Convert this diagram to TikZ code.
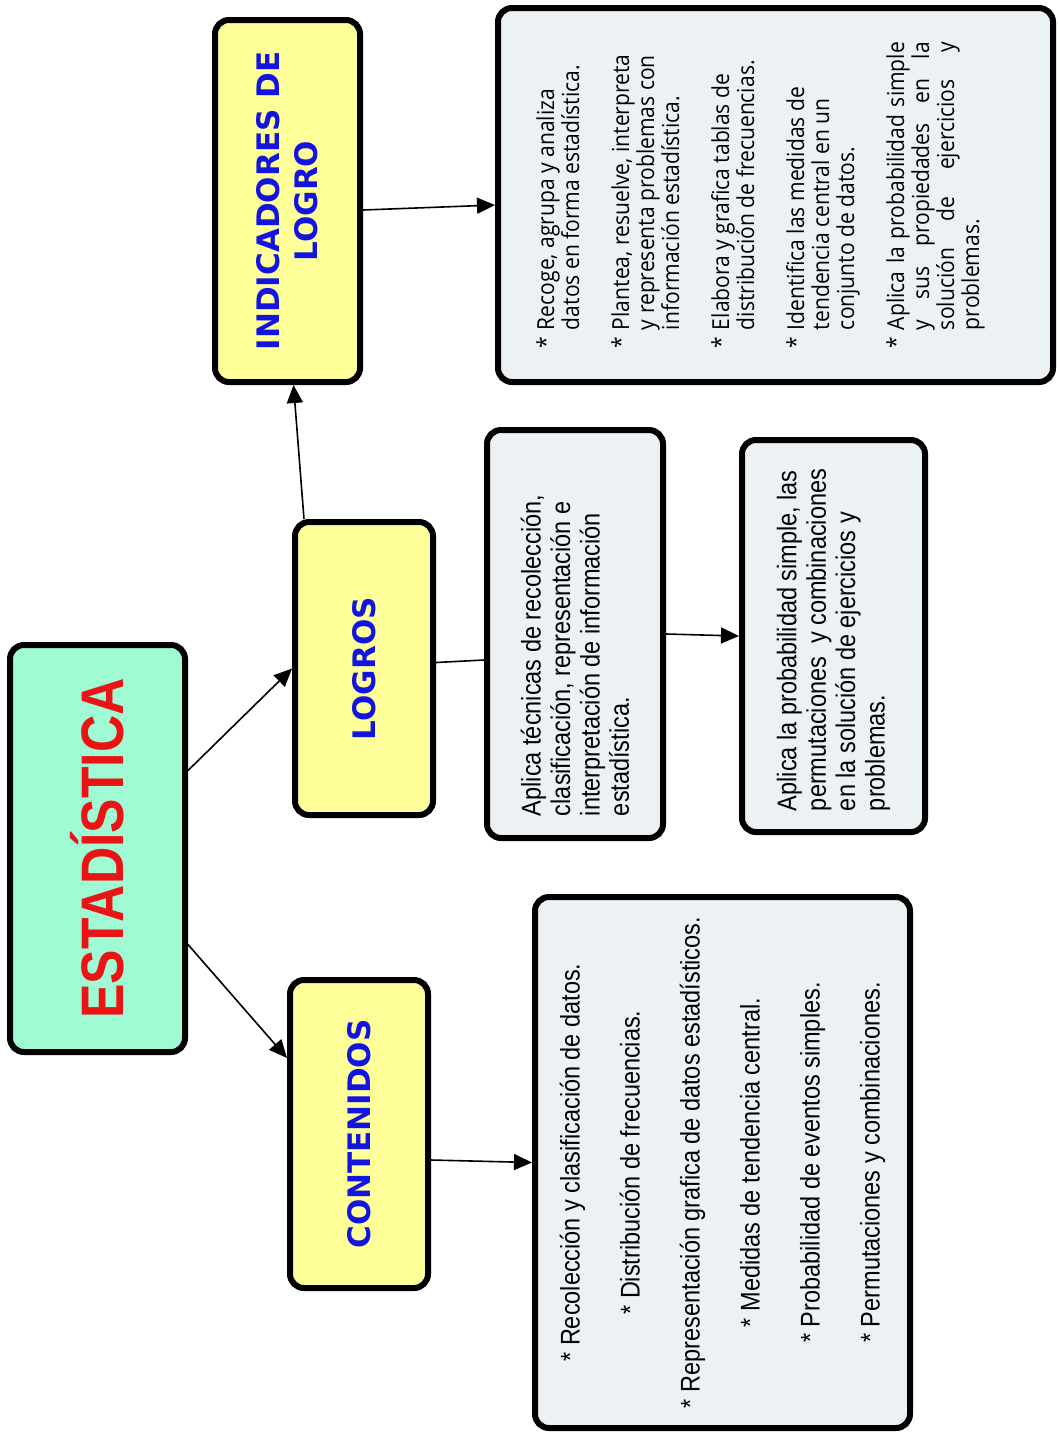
\documentclass[tikz,border=0pt]{standalone}
\usepackage{fontspec}
\usepackage{graphicx}
\usetikzlibrary{arrows.meta}
\setmainfont{Liberation Sans}
\newfontfamily\titlefont{DejaVu Sans}
\newfontfamily\bigfont[FakeStretch=0.86]{Liberation Sans}
\newfontfamily\bodyfont[FakeStretch=0.87]{Liberation Sans}
\newfontfamily\indfont[FakeStretch=0.9]{Open Sans}
\definecolor{mintfill}{RGB}{160,250,212}
\definecolor{lemonfill}{RGB}{255,255,153}
\definecolor{greyfill}{RGB}{236,241,244}
\definecolor{titleblue}{RGB}{20,20,225}
\definecolor{titlered}{RGB}{235,20,20}
\hyphenpenalty=10000
\exhyphenpenalty=10000
\lineskiplimit=-20pt
\newcommand{\logitem}[1]{\par\hangindent=9pt\hangafter=1\noindent\makebox[9pt][l]{*}#1\par}
\begin{document}
\begin{tikzpicture}[x=0.5pt,y=-0.5pt,
  baseframe/.style={draw=black,line width=3pt,rounded corners=7pt,inner sep=0pt},
  mainbox/.style={baseframe,fill=mintfill,text=titlered,
    font=\bigfont\bfseries\fontsize{30}{34}\selectfont},
  headbox/.style={baseframe,fill=lemonfill,text=titleblue,
    font=\titlefont\bfseries\fontsize{15.5}{19}\selectfont},
  notebox/.style={baseframe,fill=greyfill,
    font=\bodyfont\fontsize{13.5}{14.7}\selectfont},
  conn/.style={line width=0.8pt,-{Triangle[length=9pt,width=8pt]}},
  connplain/.style={line width=0.8pt}]
  \useasboundingbox (0,0) rectangle (1057,1432);
  \node[mainbox,minimum width=87.5pt,minimum height=203.5pt] (est) at (97.5,848.5)
    {\rotatebox{90}{ESTADÍSTICA}};
  \node[headbox,minimum width=72.5pt,minimum height=181pt] (indic) at (287.5,201)
    {\rotatebox{90}{\parbox{170pt}{\centering INDICADORES DE\\ LOGRO}}};
  \node[headbox,minimum width=69pt,minimum height=146.5pt] (logros) at (364,668.5)
    {\rotatebox{90}{LOGROS}};
  \node[headbox,minimum width=69pt,minimum height=154pt] (cont) at (359,1134)
    {\rotatebox{90}{CONTENIDOS}};
  \node[notebox,minimum width=277.5pt,minimum height=187pt,
    font=\indfont\fontsize{11.7}{12.5}\selectfont] (indtxt) at (775.5,195)
    {\rotatebox{90}{\raisebox{0pt}[\height][\dimexpr\depth+15pt\relax]{\parbox{153pt}{\setlength{\parskip}{12.5pt}%
      \logitem{Recoge, agrupa y analiza\\ datos en forma estadística.}
      \logitem{Plantea, resuelve, interpreta\\ y representa problemas con\\ información estadística.}
      \logitem{Elabora y grafica tablas de\\ distribución de frecuencias.}
      \logitem{Identifica las medidas de\\ tendencia central en un\\ conjunto de datos.}
      \logitem{Aplica la probabilidad simple\linebreak y sus propiedades en la\linebreak solución de ejercicios y\linebreak problemas.}}}}};
  \node[notebox,minimum width=88pt,minimum height=204pt] (lt1) at (575,634)
    {\rotatebox{90}{\parbox{162pt}{\raggedright Aplica técnicas de recolección,\\
      clasificación, representación e\\ interpretación de información\\ estadística.}\hspace{20pt}}};
  \node[notebox,minimum width=91.5pt,minimum height=196pt] (lt2) at (833.5,636)
    {\rotatebox{90}{\parbox{175pt}{\raggedright Aplica la probabilidad simple, las\\
      permutaciones\ \ y combinaciones\\ en la solución de ejercicios y\\ problemas.}}};
  \node[notebox,minimum width=187.5pt,minimum height=265.5pt] (conttxt) at (722.5,1162.5)
    {\rotatebox{90}{\parbox{255pt}{\centering\baselineskip=30pt
      {*} Recolección y clasificación de datos.\\{}
      * Distribución de frecuencias.\\{}
      * Representación grafica de datos estadísticos.\\{}
      * Medidas de tendencia central.\\{}
      * Probabilidad de eventos simples.\\{}
      * Permutaciones y combinaciones.\par}}};
  \draw[conn] ([yshift=39pt]est.east) -- (logros.west);
  \draw[conn] ([yshift=-48pt]est.east) -- ([yshift=38pt]cont.west);
  \draw[conn] ([xshift=-30pt]logros.north) -- ([xshift=3pt]indic.south);
  \draw[conn] ([yshift=-4.5pt]indic.east) -- ([yshift=-5pt]indtxt.west);
  \draw[connplain] ([yshift=3pt]logros.east) -- ([yshift=-13pt]lt1.west);
  \draw[conn] (lt1.east) -- (lt2.west);
  \draw[conn] ([yshift=-13pt]cont.east) -- (conttxt.west);
\end{tikzpicture}
\end{document}
